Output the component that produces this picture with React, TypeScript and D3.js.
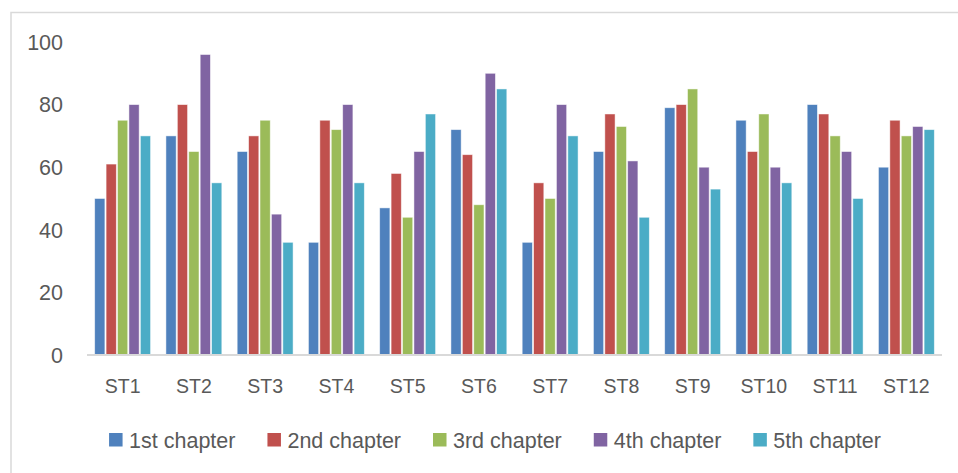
import * as d3 from 'd3';
import React, { useEffect, useRef } from "react";

const categories = ['ST1', 'ST2', 'ST3', 'ST4', 'ST5', 'ST6', 'ST7', 'ST8', 'ST9', 'ST10', 'ST11', 'ST12'];
const seriesNames = ['1st chapter', '2nd chapter', '3rd chapter', '4th chapter', '5th chapter'];
const chapter1 = [50, 70, 65, 36, 47, 72, 36, 65, 79, 75, 80, 60];
const chapter2 = [61, 80, 70, 75, 58, 64, 55, 77, 80, 65, 77, 75];
const chapter3 = [75, 65, 75, 72, 44, 48, 50, 73, 85, 77, 70, 70];
const chapter4 = [80, 96, 45, 80, 65, 90, 80, 62, 60, 60, 65, 73];
const chapter5 = [70, 55, 36, 55, 77, 85, 70, 44, 53, 55, 50, 72];
const yTicks = [0, 20, 40, 60, 80, 100];

const seriesValues = [chapter1, chapter2, chapter3, chapter4, chapter5];
const colors = ['#4F81BD', '#C0504D', '#9BBB59', '#8064A2', '#4BACC6'];
const FONT = '"Liberation Sans", Arial, sans-serif';
const TEXT = '#595959';

const BarChart: React.FC = () => {
    const ref = useRef<SVGSVGElement>(null);

    useEffect(() => {
        if (!ref.current) return;
        const width = 958;
        const height = 473;
        const left = 87, right = 942, top = 42, bottom = 355;

        const svg = d3.select(ref.current)
            .attr('width', width)
            .attr('height', height);
        svg.selectAll('*').remove();

        // chart frame (only the top and left edges are visible)
        svg.append('rect')
            .attr('x', 11).attr('y', 12.5)
            .attr('width', 980).attr('height', 500)
            .attr('fill', 'white')
            .attr('stroke', '#D9D9D9')
            .attr('stroke-width', 1.5);

        const x = d3.scaleBand<string>().domain(categories).range([left, right]).paddingInner(0).paddingOuter(0);
        const xInner = d3.scaleBand<number>().domain(d3.range(seriesNames.length))
            .range([0, x.bandwidth()]).paddingOuter(0.62).paddingInner(0);
        const y = d3.scaleLinear().domain([0, 100]).range([bottom, top]);

        const groups = svg.append('g')
            .selectAll('g')
            .data(categories)
            .enter()
            .append('g')
            .attr('transform', d => `translate(${x(d)},0)`);

        groups.selectAll('rect')
            .data((_, i) => seriesValues.map((s, k) => ({ k, v: s[i] })))
            .enter()
            .append('rect')
            .attr('x', d => (xInner(d.k) as number) + 0.6)
            .attr('width', xInner.bandwidth() - 1.2)
            .attr('y', d => y(d.v))
            .attr('height', d => y(0) - y(d.v))
            .attr('fill', d => colors[d.k])
            .attr('stroke', 'white')
            .attr('stroke-opacity', 0.6)
            .attr('stroke-width', 0.8);

        // baseline
        svg.append('line')
            .attr('x1', left).attr('x2', right)
            .attr('y1', y(0)).attr('y2', y(0))
            .attr('stroke', '#D9D9D9')
            .attr('stroke-width', 2);

        // y tick labels
        svg.append('g')
            .selectAll('text')
            .data(yTicks)
            .enter()
            .append('text')
            .attr('x', 63)
            .attr('y', d => y(d))
            .attr('dy', '0.36em')
            .attr('text-anchor', 'end')
            .attr('font-family', FONT)
            .attr('font-size', 21.5)
            .attr('fill', TEXT)
            .text(d => d);

        // x category labels
        svg.append('g')
            .selectAll('text')
            .data(categories)
            .enter()
            .append('text')
            .attr('x', d => (x(d) as number) + x.bandwidth() / 2)
            .attr('y', 386)
            .attr('dy', '0.36em')
            .attr('text-anchor', 'middle')
            .attr('font-family', FONT)
            .attr('font-size', 19.5)
            .attr('fill', TEXT)
            .text(d => d);

        // legend
        const legend = svg.append('g');
        const items = legend.selectAll('g')
            .data(seriesNames)
            .enter()
            .append('g');
        items.append('rect')
            .attr('x', 0).attr('y', 433)
            .attr('width', 13.5).attr('height', 13.5)
            .attr('fill', (_, i) => colors[i]);
        items.append('text')
            .attr('x', 20)
            .attr('y', 440)
            .attr('dy', '0.36em')
            .attr('font-family', FONT)
            .attr('font-size', 21.5)
            .attr('fill', TEXT)
            .text(d => d);

        const gap = 32;
        const widths: number[] = [];
        items.each(function () {
            const t = d3.select(this).select('text').node() as SVGTextElement;
            widths.push(20 + t.getComputedTextLength());
        });
        const total = d3.sum(widths) + gap * (widths.length - 1);
        let cursor = 495 - total / 2;
        items.attr('transform', (_, i) => {
            const tx = cursor;
            cursor += widths[i] + gap;
            return `translate(${tx},0)`;
        });
    }, []);

    return (
        <svg ref={ref} style={{ position: 'absolute', left: 0, top: 0, display: 'block' }}></svg>
    );
};

export default function App() {
    return <BarChart />;
}
